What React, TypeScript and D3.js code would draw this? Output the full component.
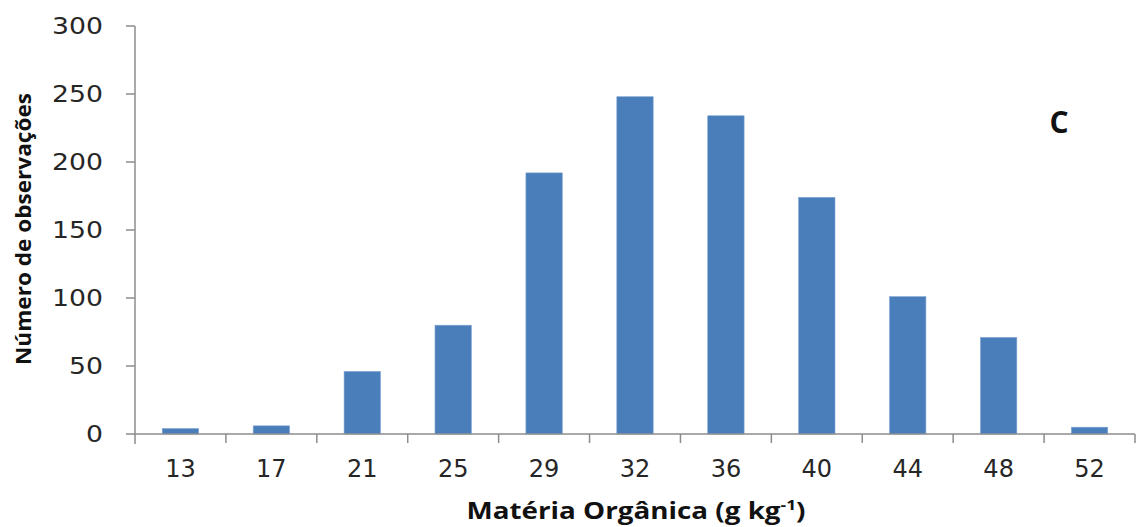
import React from "react";
import * as d3 from "d3";

const categories = ["13", "17", "21", "25", "29", "32", "36", "40", "44", "48", "52"];
const counts = [4, 6, 46, 80, 192, 248, 234, 174, 101, 71, 5];
const yTicks = [0, 50, 100, 150, 200, 250, 300];

const W = 1137;
const H = 527;
const margin = { left: 135, right: 2, top: 26, bottom: 93 };

export default function App() {
  const x = d3
    .scaleBand<string>()
    .domain(categories)
    .range([margin.left, W - margin.right])
    .paddingInner(0.6)
    .paddingOuter(0.3);
  const xOuter = d3.scaleBand<string>().domain(categories).range([margin.left, W - margin.right]);
  const y = d3.scaleLinear().domain([0, 300]).range([H - margin.bottom, margin.top]);
  const axisColor = "#8c8c8c";
  const textColor = "#262626";
  const y0 = y(0);

  return (
    <svg width={W} height={H} style={{ position: "absolute", left: 0, top: 0, background: "#fff" }}>
      {/* bars */}
      {categories.map((c, i) => (
        <rect
          key={c}
          x={x(c)}
          y={y(counts[i])}
          width={x.bandwidth()}
          height={y0 - y(counts[i])}
          fill="#4a7ebb"
          stroke="#7ea4d4"
          strokeWidth={0.6}
        />
      ))}
      {/* y axis */}
      <line x1={margin.left} x2={margin.left} y1={y(300)} y2={y0 + 10} stroke={axisColor} strokeWidth={1.5} />
      {yTicks.map((t) => (
        <g key={t}>
          <line x1={margin.left - 9} x2={margin.left} y1={y(t)} y2={y(t)} stroke={axisColor} strokeWidth={1.5} />
          <g transform={`translate(103,${y(t)}) scale(1.16,1)`}>
            <text
              x={0}
              y={0}
              textAnchor="end"
              dominantBaseline="central"
              fontFamily="DejaVu Sans"
              fontSize={23}
              fill={textColor}
            >
              {t}
            </text>
          </g>
        </g>
      ))}
      {/* x axis */}
      <line x1={margin.left} x2={W - margin.right} y1={y0} y2={y0} stroke={axisColor} strokeWidth={1.5} />
      {categories.map((c) => (
        <line
          key={"t" + c}
          x1={(xOuter(c) as number) + xOuter.bandwidth()}
          x2={(xOuter(c) as number) + xOuter.bandwidth()}
          y1={y0}
          y2={y0 + 9}
          stroke={axisColor}
          strokeWidth={1.5}
        />
      ))}
      {categories.map((c) => (
        <text
          key={"l" + c}
          x={(x(c) as number) + x.bandwidth() / 2}
          y={469}
          textAnchor="middle"
          dominantBaseline="central"
          fontFamily="DejaVu Sans"
          fontSize={24}
          fill={textColor}
        >
          {c}
        </text>
      ))}
      {/* axis titles */}
      <text
        x={636}
        y={519}
        textAnchor="middle"
        fontFamily="Open Sans"
        fontWeight="bold"
        fontSize={24}
        fill="#111"
        textLength={339}
        lengthAdjust="spacingAndGlyphs"
      >
        Matéria Orgânica (g kg<tspan dy={-9} fontSize={15}>-1</tspan><tspan dy={9}>)</tspan>
      </text>
      <text
        transform="translate(31,229) rotate(-90)"
        textAnchor="middle"
        fontFamily="Open Sans"
        fontWeight="bold"
        fontSize={22}
        fill="#111"
        textLength={272}
        lengthAdjust="spacingAndGlyphs"
      >
        Número de observações
      </text>
      <text x={1059} y={133} textAnchor="middle" fontFamily="Open Sans" fontWeight="bold" fontSize={30} fill="#111">
        C
      </text>
    </svg>
  );
}
